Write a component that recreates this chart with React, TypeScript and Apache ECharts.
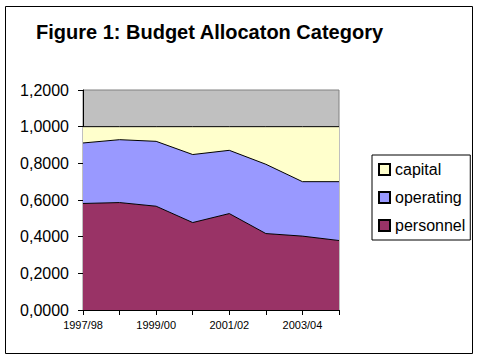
import React, { useEffect, useRef } from "react";
import * as echarts from "echarts";

const categories = ["1997/98", "1998/99", "1999/00", "2000/01", "2001/02", "2002/03", "2003/04", "2004/05"];
const personnel = [0.581, 0.586, 0.566, 0.477, 0.526, 0.417, 0.403, 0.379];
const operating = [0.330, 0.343, 0.354, 0.371, 0.345, 0.378, 0.297, 0.321];
const capital = [0.089, 0.071, 0.080, 0.152, 0.129, 0.205, 0.300, 0.300];

const FONT = 'Arial, "Liberation Sans", sans-serif';

export default function App() {
  const ref = useRef<HTMLDivElement>(null);
  useEffect(() => {
    document.body.style.margin = "0";
    const chart = echarts.init(ref.current!, null, { renderer: "svg" });
    const mk = (name: string, data: number[], color: string) => ({
      name,
      type: "line",
      stack: "total",
      data,
      symbol: "none",
      showSymbol: false,
      lineStyle: { color: "#000", width: 1 },
      areaStyle: { color, opacity: 1 },
      itemStyle: { color, borderColor: "#000", borderWidth: 1 },
    });
    chart.setOption({
      animation: false,
      backgroundColor: "#fff",
      title: {
        text: "Figure 1: Budget Allocaton Category",
        left: 36,
        top: 22,
        padding: 0,
        textStyle: { fontFamily: FONT, fontSize: 20, fontWeight: "bold", color: "#000" },
      },
      graphic: [
        {
          type: "rect",
          shape: { x: 5.5, y: 6.5, width: 467, height: 347 },
          style: { fill: "none", stroke: "#000", lineWidth: 1 },
          silent: true,
        },
      ],
      legend: {
        orient: "vertical",
        left: 372,
        top: 155,
        padding: [6.5, 5, 6.5, 6],
        itemGap: 12,
        itemWidth: 11,
        itemHeight: 11,
        borderColor: "#000",
        borderWidth: 1,
        data: ["capital", "operating", "personnel"],
        textStyle: { fontFamily: FONT, fontSize: 16, color: "#000" },
        icon: "rect",
      },
      grid: {
        left: 83,
        right: 140,
        top: 90,
        bottom: 49,
        show: true,
        backgroundColor: "#C0C0C0",
        borderColor: "#808080",
        borderWidth: 1,
      },
      xAxis: {
        type: "category",
        data: categories,
        boundaryGap: false,
        axisLine: { lineStyle: { color: "#000", width: 1 } },
        axisTick: { show: true, interval: 0, length: 5, lineStyle: { color: "#000" } },
        axisLabel: { interval: 1, fontFamily: FONT, fontSize: 11, color: "#000", margin: 9 },
        splitLine: { show: false },
      },
      yAxis: {
        type: "value",
        min: 0,
        max: 1.2,
        interval: 0.2,
        axisLine: { show: true, lineStyle: { color: "#000", width: 1 } },
        axisTick: { show: true, length: 5, lineStyle: { color: "#000" } },
        axisLabel: {
          fontFamily: FONT,
          fontSize: 16,
          color: "#000",
          margin: 14,
          formatter: (v: number) => v.toFixed(4).replace(".", ","),
        },
        splitLine: { show: false },
      },
      series: [
        mk("personnel", personnel, "#993366"),
        mk("operating", operating, "#9999FF"),
        mk("capital", capital, "#FFFFCC"),
      ],
    });
    return () => chart.dispose();
  }, []);
  return <div ref={ref} style={{ width: 479, height: 359 }} />;
}
